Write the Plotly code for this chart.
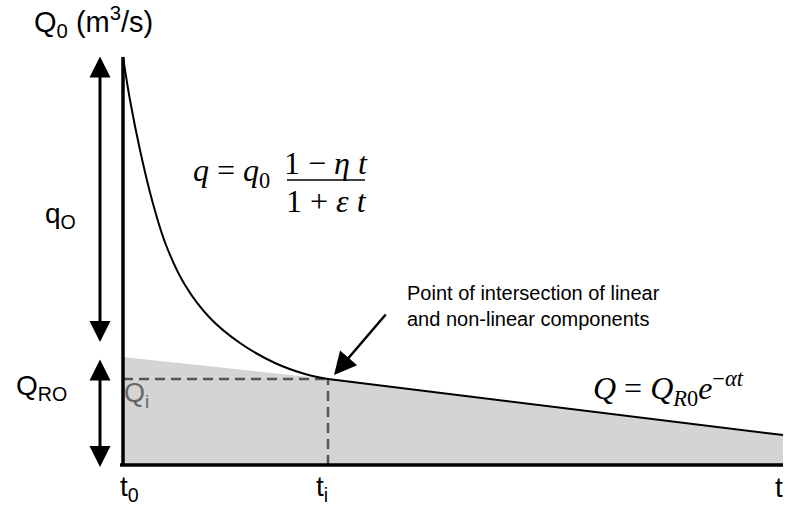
import plotly.graph_objects as go

# schematic hydrograph, units roughly in pixels from origin (t0, 0)
curve_t = [0, 7, 17, 29, 43, 62, 87, 117, 152, 182, 205]
curve_q = [408, 365, 315, 265, 220, 180, 147, 122, 102, 91, 86]

base_t = [0, 205, 660]
base_q = [108, 86, 30]

t_i = 205
q_i = 86
t_end = 660
q_top = 408

fig = go.Figure()

# grey area under the linear component
fig.add_trace(go.Scatter(x=base_t, y=base_q, mode="lines", fill="tozeroy",
                         fillcolor="#d4d4d4", line=dict(width=0), hoverinfo="skip"))

# dashed guides to the intersection point
fig.add_trace(go.Scatter(x=[0, t_i], y=[q_i, q_i], mode="lines",
                         line=dict(color="#555555", width=2.5, dash="10px,6px")))
fig.add_trace(go.Scatter(x=[t_i, t_i], y=[0, q_i], mode="lines",
                         line=dict(color="#555555", width=2.5, dash="10px,6px")))

# non-linear recession and linear component
fig.add_trace(go.Scatter(x=curve_t, y=curve_q, mode="lines",
                         line=dict(color="black", width=2, shape="spline", smoothing=1)))
fig.add_trace(go.Scatter(x=base_t[1:], y=base_q[1:], mode="lines",
                         line=dict(color="black", width=2)))

# axes
fig.add_trace(go.Scatter(x=[0, 0], y=[0, q_top], mode="lines",
                         line=dict(color="black", width=3.5)))
fig.add_trace(go.Scatter(x=[-3, t_end], y=[0, 0], mode="lines",
                         line=dict(color="black", width=3.5)))

sans = "Liberation Sans, Arial, sans-serif"
serif = "Liberation Serif, Times New Roman, serif"

# double-headed arrows on the left
for y0, y1 in [(410, 123), (107, -2)]:
    fig.add_annotation(x=-23, y=y1, ax=-23, ay=y0, xref="x", yref="y", axref="x", ayref="y",
                       text="", showarrow=True, arrowhead=2, startarrowhead=2,
                       arrowside="end+start", arrowsize=1.4, startarrowsize=1.4,
                       arrowwidth=3, arrowcolor="black", standoff=0, startstandoff=0)

# pointer to intersection
fig.add_annotation(x=211, y=90, ax=264, ay=152, xref="x", yref="y", axref="x", ayref="y",
                   text="", showarrow=True, arrowhead=2, arrowsize=1.8,
                   arrowwidth=2.5, arrowcolor="black", standoff=0)

labels = [
    ("Q<sub>0</sub> (m<sup>3</sup>/s)", -30, 443, 29, "black"),
    ("q<sub>O</sub>", -63, 250, 28, "black"),
    ("Q<sub>RO</sub>", -82, 78, 28, "black"),
    ("Q<sub>i</sub>", 13, 70, 27, "#666666"),
    ("t<sub>0</sub>", 6, -23, 28, "black"),
    ("t<sub>i</sub>", 199, -23, 28, "black"),
    ("t", 656, -22, 28, "black"),
]
for txt, x, y, size, col in labels:
    fig.add_annotation(x=x, y=y, xref="x", yref="y", text=txt, showarrow=False,
                       xanchor="center", yanchor="middle",
                       font=dict(family=sans, size=size, color=col))

fig.add_annotation(x=282, y=159, xref="x", yref="y",
                   text="Point of intersection of linear<br>and non-linear components",
                   showarrow=False, xanchor="left", yanchor="middle", align="left",
                   font=dict(family=sans, size=20, color="black"))

# equations
fig.add_annotation(x=108, y=293, xref="x", yref="y", text="<i>q</i> = <i>q</i><sub>0</sub>",
                   showarrow=False, font=dict(family=serif, size=32, color="black"))
fig.add_annotation(x=203, y=302, xref="x", yref="y", text="1 \u2212 <i>\u03b7 t</i>",
                   showarrow=False, font=dict(family=serif, size=32, color="black"))
fig.add_annotation(x=203, y=264, xref="x", yref="y", text="1 + <i>\u03b5 t</i>",
                   showarrow=False, font=dict(family=serif, size=32, color="black"))
fig.add_shape(type="line", x0=164, x1=242, y0=285, y1=285, xref="x", yref="y",
              line=dict(color="black", width=1.5))
fig.add_annotation(x=545, y=77, xref="x", yref="y",
                   text="<i>Q</i> = <i>Q</i><sub><i>R</i>0</sub><i>e</i><sup>\u2212<i>\u03b1t</i></sup>",
                   showarrow=False, font=dict(family=serif, size=32, color="black"))

fig.update_layout(
    width=788, height=509,
    margin=dict(l=0, r=0, t=0, b=0),
    paper_bgcolor="white", plot_bgcolor="white",
    showlegend=False,
    xaxis=dict(range=[-123, 665], visible=False, fixedrange=True),
    yaxis=dict(range=[-44, 465], visible=False, fixedrange=True),
)

fig.write_html("out.html", config={"displayModeBar": False},
               post_script="document.body.style.margin='0';document.body.style.overflow='hidden';")
